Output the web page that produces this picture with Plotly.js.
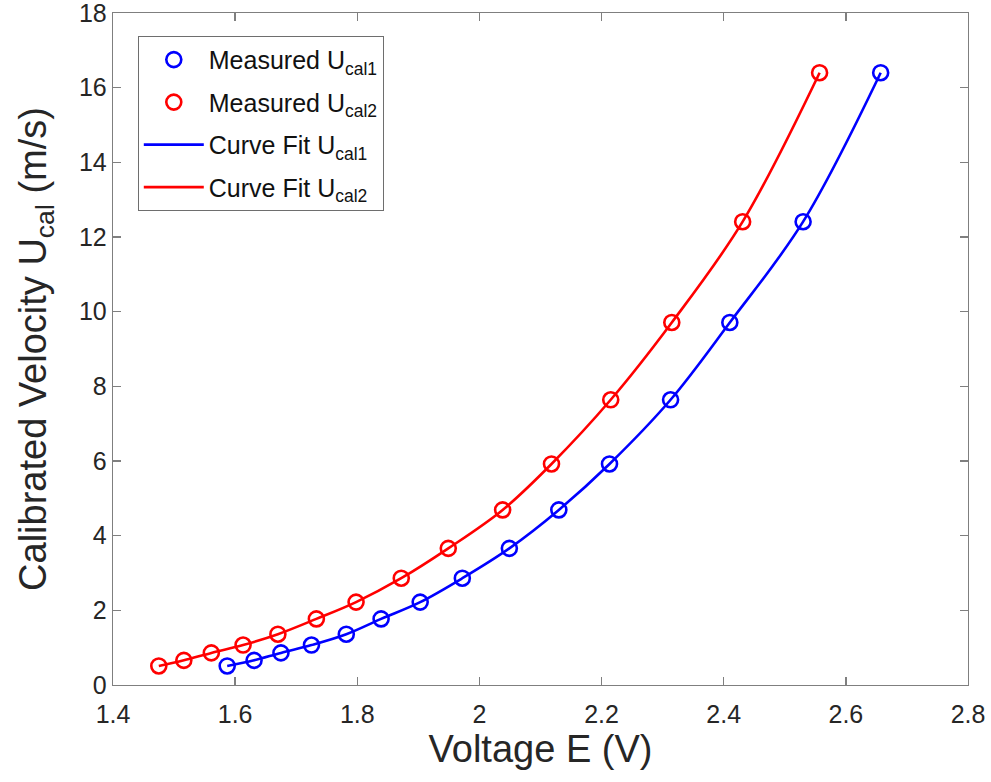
<!DOCTYPE html>
<html>
<head>
<meta charset="utf-8">
<script src="https://cdn.plot.ly/plotly-3.0.1.min.js"></script>
<style>html,body{margin:0;padding:0;background:#fff;}#chart{width:991px;height:782px;}</style>
</head>
<body>
<div id="chart"></div>
<script>
const voltage1 = [1.587, 1.631, 1.675, 1.725, 1.782, 1.839, 1.903, 1.972, 2.049, 2.130, 2.213, 2.313, 2.410, 2.530, 2.657];
const voltage2 = [1.475, 1.516, 1.561, 1.613, 1.670, 1.733, 1.798, 1.872, 1.949, 2.038, 2.118, 2.215, 2.315, 2.431, 2.557];
const velocity = [0.51, 0.66, 0.86, 1.07, 1.36, 1.77, 2.22, 2.86, 3.66, 4.69, 5.92, 7.64, 9.71, 12.41, 16.40];
const xTicks = [1.4, 1.6, 1.8, 2, 2.2, 2.4, 2.6, 2.8];
const xTickText = ['1.4', '1.6', '1.8', '2', '2.2', '2.4', '2.6', '2.8'];
const yTicks = [0, 2, 4, 6, 8, 10, 12, 14, 16, 18];
const names = ['Measured U<sub>cal1</sub>', 'Measured U<sub>cal2</sub>', 'Curve Fit U<sub>cal1</sub>', 'Curve Fit U<sub>cal2</sub>'];

const BLUE = '#0000ff', RED = '#ff0000';
const FONT = '"Liberation Sans", Arial, Helvetica, sans-serif';

const traces = [
  {x: voltage1, y: velocity, mode: 'lines', name: names[2], legendrank: 3, legendgroup: 'g3',
   line: {color: BLUE, width: 2.6, shape: 'spline', smoothing: 1}},
  {x: voltage2, y: velocity, mode: 'lines', name: names[3], legendrank: 4, legendgroup: 'g4',
   line: {color: RED, width: 2.6, shape: 'spline', smoothing: 1}},
  {x: voltage1, y: velocity, mode: 'markers', name: names[0], legendrank: 1, legendgroup: 'g1',
   marker: {symbol: 'circle-open', size: 15, color: BLUE, line: {width: 2.6, color: BLUE}}},
  {x: voltage2, y: velocity, mode: 'markers', name: names[1], legendrank: 2, legendgroup: 'g2',
   marker: {symbol: 'circle-open', size: 15, color: RED, line: {width: 2.6, color: RED}}}
];

const axisCommon = {
  showgrid: false, zeroline: false, showline: true, mirror: 'ticks',
  linecolor: '#7f7f7f', linewidth: 1.3, ticks: 'inside', ticklen: 8, tickwidth: 1.3,
  tickcolor: '#7f7f7f', ticklabeloverflow: 'allow',
  tickfont: {family: FONT, size: 25, color: '#262626'}
};

const layout = {
  width: 991, height: 782,
  margin: {l: 113, r: 23, t: 13, b: 97},
  paper_bgcolor: '#fff', plot_bgcolor: '#fff',
  font: {family: FONT, color: '#262626'},
  showlegend: true,
  xaxis: Object.assign({}, axisCommon, {
    range: [1.4, 2.8], tickvals: xTicks, ticktext: xTickText, ticklabelstandoff: 7,
    title: {text: 'Voltage E (V)', font: {family: FONT, size: 38, color: '#262626'}, standoff: 8}
  }),
  yaxis: Object.assign({}, axisCommon, {
    range: [0, 18], tickvals: yTicks,
    title: {text: 'Calibrated Velocity U<sub>cal</sub> (m/s)', font: {family: FONT, size: 38, color: '#262626'}, standoff: 20}
  }),
  legend: {
    x: 0.029, y: 0.966, xanchor: 'left', yanchor: 'top',
    bgcolor: '#fff', bordercolor: '#6e6e6e', borderwidth: 1,
    font: {family: FONT, size: 25, color: '#111'},
    itemwidth: 60, traceorder: 'grouped', tracegroupgap: 7
  }
};

Plotly.newPlot('chart', traces, layout, {displayModeBar: false, staticPlot: true});
</script>
</body>
</html>
